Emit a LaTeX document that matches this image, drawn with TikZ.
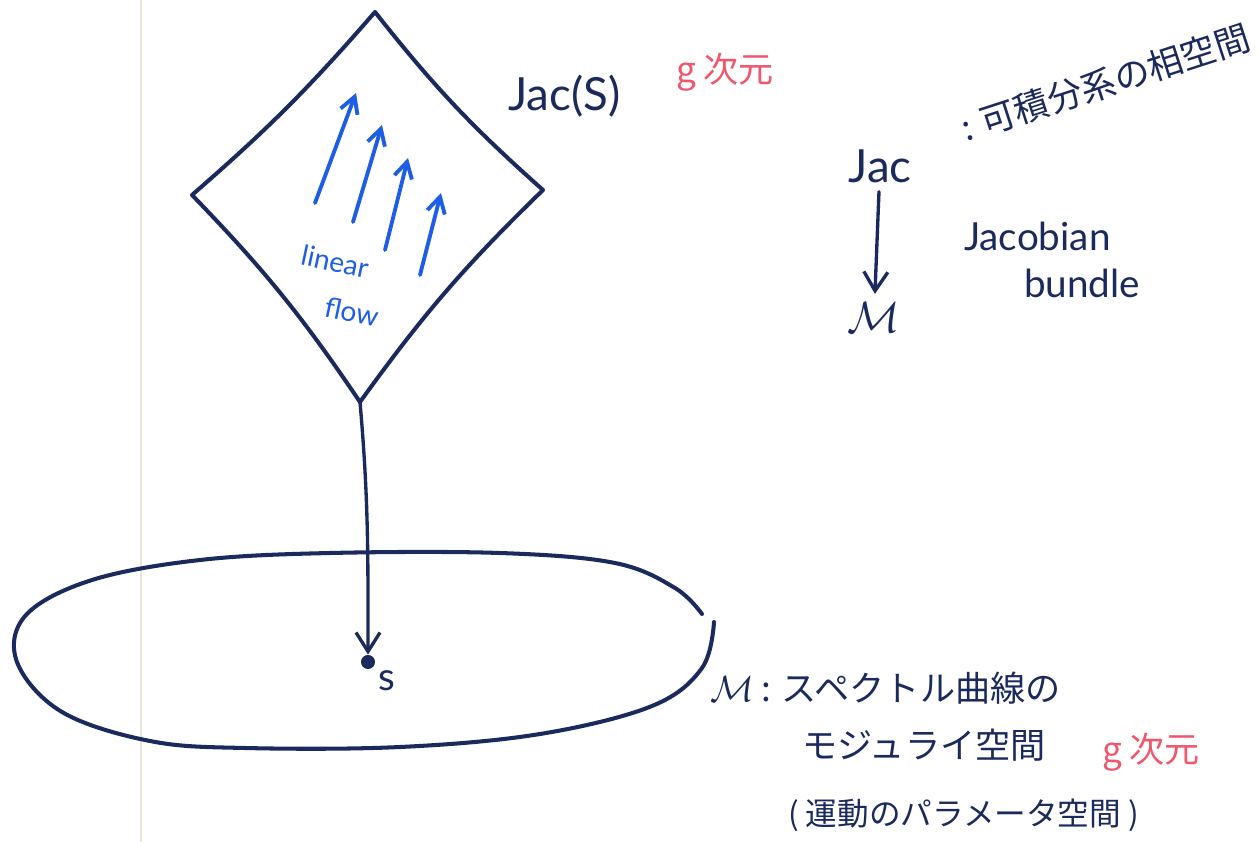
\documentclass[tikz,border=0pt]{standalone}
\usepackage{fontspec}
\setmainfont{Lato}
\newfontfamily\jpfont{Noto Sans CJK JP}
\usetikzlibrary{arrows.meta,positioning,shapes.geometric}

\definecolor{ink}{HTML}{1B2A5C}
\definecolor{flowblue}{HTML}{1E5EE6}
\definecolor{redink}{HTML}{F0566C}
\definecolor{marginline}{HTML}{EDE6D4}

\begin{document}
\begin{tikzpicture}[
    x=0.02cm, y=-0.02cm,
    every node/.style={text=ink, inner sep=1pt},
    pen/.style={draw=ink, line width=2.3pt, line cap=round, line join=round},
    flow/.style={draw=flowblue, line width=2.2pt, line cap=round, -{Straight Barb[length=3.2mm, width=3.6mm]}},
    map/.style={draw=ink, line width=1.9pt, line cap=round, -{Straight Barb[length=3.8mm, width=4.8mm]}},
    mathlabel/.style={font=\fontsize{26}{30}\selectfont},
    latinlabel/.style={font=\fontsize{22}{26}\selectfont},
    flowlabel/.style={text=flowblue, font=\fontsize{16}{26}\selectfont, align=left},
    jplabel/.style={font=\jpfont\fontsize{20}{24}\selectfont},
    dimlabel/.style={text=redink, font=\jpfont\fontsize{20}{24}\selectfont}
]
\useasboundingbox (0,0) rectangle (1259,842);
\fill[white] (0,0) rectangle (1259,842);
\draw[marginline, line width=1.2pt] (141,0) -- (141,842);

% fibre Jac(S)
\coordinate (jtop) at (375,12);
\coordinate (jright) at (543,190);
\coordinate (jbottom) at (360,402);
\coordinate (jleft) at (192,195);
\draw[pen] (jtop) to[bend right=5] (jright) to[bend right=5] (jbottom)
  to[bend right=5] (jleft) to[bend right=4] (jtop);

% linear flow
\foreach \tx/\ty/\hx/\hy in {315/203/356/93, 353/222/382/125, 385/250/408/158, 420/275/441/193}
  \draw[flow] (\tx,\ty) -- (\hx,\hy);
\node[flowlabel, rotate=-12] (flowtext) at (340,286) {linear\\\hspace{1.2em}flow};

\node[mathlabel, anchor=west] (jacS) at (506,96) {Jac(S)};
\node[dimlabel, anchor=west] (jacdim) at (674,72) {g 次元};

% base M
\draw[pen] plot[smooth, tension=0.6] coordinates {(714,622) (702,668) (652,706) (540,734)
  (400,747) (245,748) (150,741) (62,712) (17,662) (26,615) (92,580) (200,560) (330,553)
  (500,553) (615,563) (675,588) (702,614)};
\node[circle, fill=ink, inner sep=0pt, minimum size=8pt] (spt) at (368,662) {};
\node[latinlabel, anchor=north west] (slabel) at (376,668) {s};
\draw[map] (jbottom) to[out=-85, in=90] (spt);

% legend
\node[mathlabel] (jacR) at (880,166) {Jac};
\node[mathlabel] (mR) at (874,318) {$\mathcal{M}$};
\draw[map, shorten <=4pt, shorten >=4pt] (jacR) -- (mR);
\node[jplabel, rotate=18, anchor=west] (phase) at (960,130) {: 可積分系の相空間};
\node[latinlabel, anchor=west] (jacobian) at (962,236) {Jacobian};
\node[latinlabel, anchor=west] (bundle) at (1022,283) {bundle};

\node[jplabel, anchor=west] (moduli1) at (708,688) {$\mathcal{M}$ : スペクトル曲線の};
\node[jplabel, anchor=west] (moduli2) at (800,745) {モジュライ空間};
\node[dimlabel, anchor=west] (mdim) at (1100,752) {g 次元};
\node[jplabel, font=\jpfont\fontsize{18}{22}\selectfont, anchor=west] (moduli3) at (786,815) {( 運動のパラメータ空間 )};
\end{tikzpicture}
\end{document}
